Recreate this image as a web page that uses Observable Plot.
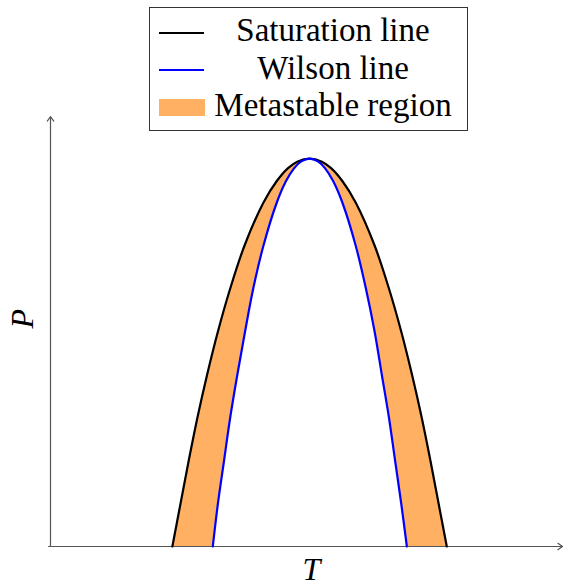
<!DOCTYPE html>
<html>
<head>
<meta charset="utf-8">
<script src="https://cdn.jsdelivr.net/npm/d3@7"></script>
<script src="https://cdn.jsdelivr.net/npm/@observablehq/plot@0.6"></script>
<style>
  html, body { margin: 0; padding: 0; background: white; }
  #wrap { position: relative; width: 563px; height: 585px; }
  #legend { position: absolute; left: 149px; top: 7px; width: 317px; height: 122px;
            border: 1px solid #333; background: white;
            font-family: "Liberation Serif", "Tinos", "DejaVu Serif", "Times New Roman", serif; }
  .sw { position: absolute; left: 9px; width: 45px; }
  .lt { position: absolute; left: 56px; width: 254px; text-align: center; font-size: 33px;
        line-height: 33px; color: #000; white-space: nowrap; }
  svg text { font-family: "Liberation Serif", "Tinos", "DejaVu Serif", "Times New Roman", serif; }
</style>
</head>
<body>
<div id="wrap">
  <div id="chart"></div>
  <div id="legend">
    <div class="sw" style="top:24px;height:2px;background:#000"></div>
    <div class="lt" style="top:6px">Saturation line</div>
    <div class="sw" style="top:61px;height:2px;background:#0000ff"></div>
    <div class="lt" style="top:44px">Wilson line</div>
    <div class="sw" style="top:91px;height:17px;width:46px;background:#ffb063"></div>
    <div class="lt" style="top:81px">Metastable region</div>
  </div>
</div>
<script>
// Axis domains (arbitrary units, no ticks shown)
const tDomain = [0, 10];
const pDomain = [0, 10];

// Pressure levels at which the branches were read
const levelsP = [0, 1, 2, 3, 4, 5, 6, 7, 8, 8.5, 8.8, 8.95, 9.02];
// Saturation line: left and right branch temperatures
const satLeftT  = [2.38, 2.54, 2.70, 2.87, 3.06, 3.27, 3.51, 3.79, 4.16, 4.42, 4.64, 4.82, 5.06];
const satRightT = [7.74, 7.58, 7.42, 7.25, 7.06, 6.85, 6.61, 6.33, 5.96, 5.70, 5.48, 5.30, 5.06];
// Wilson line: left and right branch temperatures
const wilLeftT  = [3.17, 3.27, 3.39, 3.51, 3.65, 3.80, 3.96, 4.16, 4.42, 4.60, 4.76, 4.89, 5.06];
const wilRightT = [6.96, 6.85, 6.73, 6.61, 6.47, 6.33, 6.16, 5.96, 5.70, 5.52, 5.36, 5.23, 5.06];

function closedCurve(leftT, rightT) {
  const pts = leftT.map((t, i) => ({T: t, P: levelsP[i]}));
  for (let i = rightT.length - 2; i >= 0; i--) pts.push({T: rightT[i], P: levelsP[i]});
  return pts;
}
const satCurve = closedCurve(satLeftT, satRightT);
const wilCurve = closedCurve(wilLeftT, wilRightT);

const chart = Plot.plot({
  width: 563,
  height: 585,
  marginLeft: 50,
  marginRight: 1,
  marginTop: 116,
  marginBottom: 39,
  style: {fontFamily: "'Liberation Serif', 'DejaVu Serif', serif", background: "white"},
  x: {domain: tDomain, axis: null},
  y: {domain: pDomain, axis: null},
  marks: [
    // metastable region: inside saturation, outside Wilson
    Plot.line(satCurve, {x: "T", y: "P", curve: "catmull-rom", fill: "#ffb063", stroke: "none"}),
    Plot.line(wilCurve, {x: "T", y: "P", curve: "catmull-rom", fill: "white", stroke: "none"}),
    // axes with arrows
    Plot.arrow([0], {x1: tDomain[0], x2: tDomain[1], y1: pDomain[0], y2: pDomain[0],
      stroke: "#555", strokeWidth: 1.2, headLength: 7, headAngle: 70, insetStart: -2}),
    Plot.arrow([0], {x1: tDomain[0], x2: tDomain[0], y1: pDomain[0], y2: pDomain[1],
      stroke: "#555", strokeWidth: 1.2, headLength: 7, headAngle: 70}),
    // curves
    Plot.line(satCurve, {x: "T", y: "P", curve: "catmull-rom", stroke: "#000", strokeWidth: 2.2}),
    Plot.line(wilCurve, {x: "T", y: "P", curve: "catmull-rom", stroke: "#0000ff", strokeWidth: 2.2}),
    // axis labels
    Plot.text(["T"], {frameAnchor: "bottom", dy: 33, dx: 5, fontSize: 32, fontStyle: "italic", fill: "#000"}),
    Plot.text(["P"], {frameAnchor: "left", dx: -28, dy: -3, rotate: -90, fontSize: 32, fontStyle: "italic", fill: "#000"})
  ]
});
document.getElementById("chart").appendChild(chart);
</script>
</body>
</html>
